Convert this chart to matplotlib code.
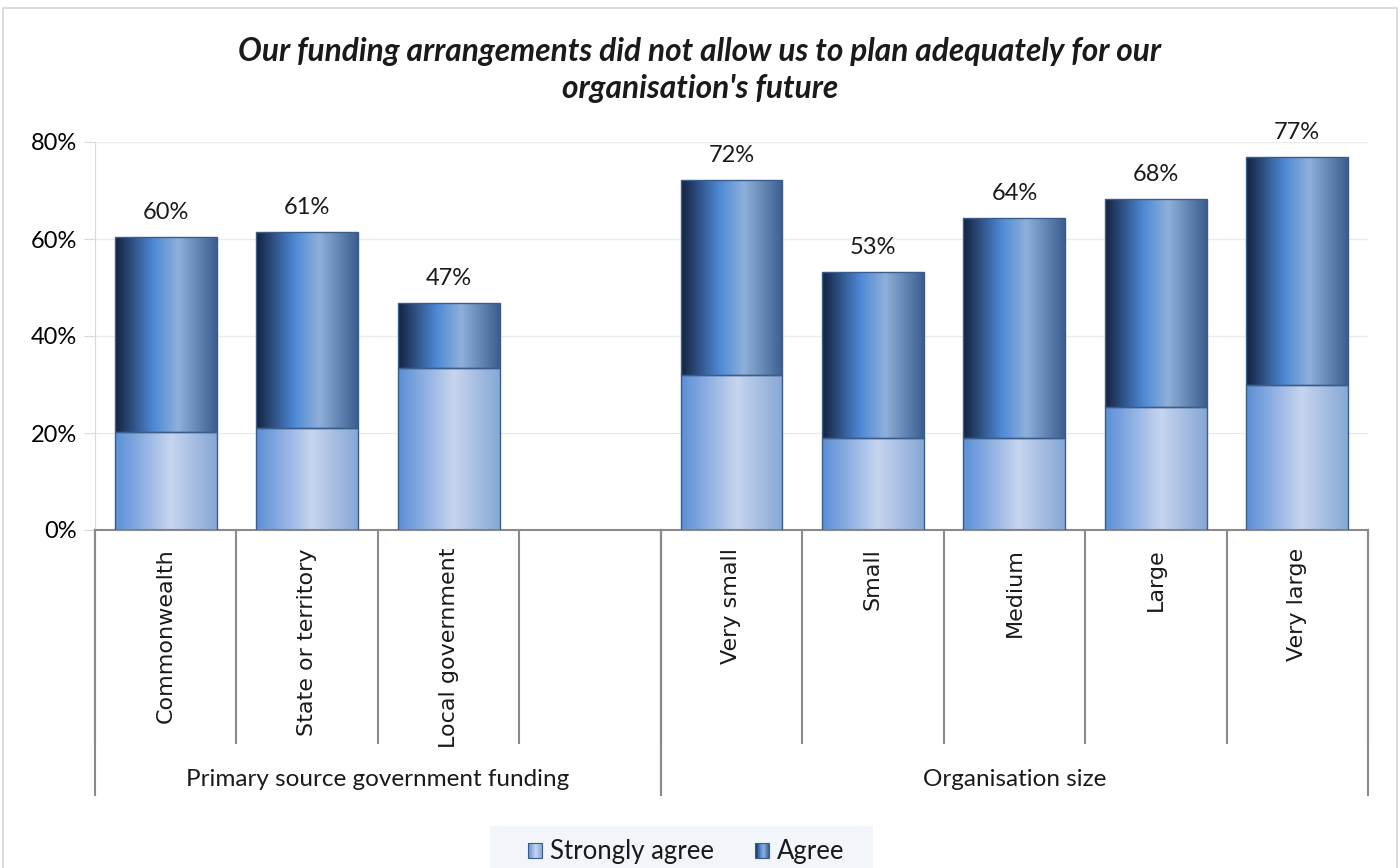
import numpy as np
import matplotlib.pyplot as plt
from matplotlib.colors import LinearSegmentedColormap
from matplotlib.patches import Rectangle

categories = ['Commonwealth', 'State or territory', 'Local government', '',
              'Very small', 'Small', 'Medium', 'Large', 'Very large']
groups = ['Primary source government funding', 'Organisation size']
group_sizes = [4, 5]
strongly_agree = [20.2, 21.0, 33.4, 0, 32.0, 19.0, 19.0, 25.4, 29.9]
agree = [40.2, 40.4, 13.4, 0, 40.2, 34.2, 45.3, 42.8, 47.0]
series_names = ['Strongly agree', 'Agree']
title = "Our funding arrangements did not allow us to plan adequately for our\norganisation's future"

sa_cmap = LinearSegmentedColormap.from_list(
    'sa', [(0, '#5a8ed6'), (0.55, '#c7d5ef'), (1, '#86a7d5')])
ag_cmap = LinearSegmentedColormap.from_list(
    'ag', [(0, '#13233d'), (0.15, '#2b4b7c'), (0.38, '#4e8ad6'),
           (0.62, '#8fb0d9'), (1, '#3c5e8f')])
grad = np.linspace(0, 1, 256).reshape(1, -1)

plt.rcParams['font.family'] = ['Lato', 'DejaVu Sans']

fig = plt.figure(figsize=(14, 8.68), dpi=100)
fig.patches.append(Rectangle((3 / 1400, -0.01), 1394 / 1400, (868 - 8) / 868 + 0.01,
                             transform=fig.transFigure, fill=False,
                             edgecolor='#d4d4d4', lw=1.2))

ax = fig.add_axes([95 / 1400, (868 - 530) / 868, 1273 / 1400, 388 / 868])
x = np.arange(len(categories))
width = 0.72


def gradient_bars(bars, cmap):
    for b in bars:
        if b.get_height() <= 0:
            b.set_visible(False)
            continue
        x0, y0 = b.get_x(), b.get_y()
        im = ax.imshow(grad, cmap=cmap, aspect='auto', interpolation='bicubic',
                       extent=[x0, x0 + b.get_width(), y0, y0 + b.get_height()],
                       zorder=2)
        im.set_clip_path(b)


b1 = ax.bar(x, strongly_agree, width, facecolor='none', edgecolor='#3a5d8c',
            lw=1, zorder=3)
b2 = ax.bar(x, agree, width, bottom=strongly_agree, facecolor='none',
            edgecolor='#3a5d8c', lw=1, zorder=3)
gradient_bars(b1, sa_cmap)
gradient_bars(b2, ag_cmap)

totals = np.array(strongly_agree) + np.array(agree)
for xi, t in zip(x, totals):
    if t > 0:
        ax.annotate(f'{t:.0f}%', (xi, t), xytext=(0, 10), textcoords='offset points',
                    ha='center', va='bottom', fontsize=17, color='#1a1a1a')

ax.set_xlim(-0.5, len(categories) - 0.5)
ax.set_ylim(0, 80)
ax.set_yticks([0, 20, 40, 60, 80])
ax.set_yticklabels([f'{v}%' for v in [0, 20, 40, 60, 80]], fontsize=17)
ax.set_xticks([])
ax.grid(axis='y', color='#ebebeb', lw=1, zorder=0)
ax.set_axisbelow(True)
ax.tick_params(axis='y', length=8, color='#d9d9d9', pad=5)
for s in ['top', 'right']:
    ax.spines[s].set_visible(False)
ax.spines['left'].set_color('#d9d9d9')
ax.spines['bottom'].set_color('#8a8a8a')
ax.spines['bottom'].set_linewidth(1.5)

# category divider lines and labels below the axis
px = 80 / 388
for i in range(len(categories) + 1):
    ax.plot([i - 0.5, i - 0.5], [0, -213 * px], color='#8a8a8a', lw=1.5,
            clip_on=False, zorder=1)
for xi, c in zip(x, categories):
    ax.text(xi, -18 * px, c, rotation=90, ha='center', va='top',
            fontsize=16, family='DejaVu Sans', color='#1a1a1a')

start = 0
for g, n in zip(groups, group_sizes):
    for edge in (start - 0.5, start + n - 0.5):
        ax.plot([edge, edge], [0, -265 * px], color='#8a8a8a', lw=1.5,
                clip_on=False, zorder=1)
    ax.text(start + (n - 1) / 2, -250 * px, g, ha='center', va='center',
            fontsize=17.5, color='#1a1a1a')
    start += n

fig.text(700 / 1400, 1 - 70 / 868, title, ha='center', va='center',
         fontsize=22.8, fontweight='bold', fontstyle='italic', color='#1a1a1a',
         linespacing=1.3)

# legend strip
lax = fig.add_axes([490 / 1400, 0, 383 / 1400, 42 / 868])
lax.set_facecolor('#f2f5fa')
lax.set_xticks([])
lax.set_yticks([])
for s in lax.spines.values():
    s.set_visible(False)
for (x0, tx), name, cmap in zip([(38, 60), (265, 287)], series_names,
                                [sa_cmap, ag_cmap]):
    lax.imshow(grad, cmap=cmap, aspect='auto', extent=[x0, x0 + 14, 10, 25])
    lax.add_patch(Rectangle((x0, 10), 14, 15, fill=False, edgecolor='#3a5d8c', lw=0.8))
    lax.text(tx, 17, name, va='center', ha='left', fontsize=18.5, color='#1a1a1a')
lax.set_xlim(0, 383)
lax.set_ylim(0, 42)

fig.savefig('out.png', dpi=100)
